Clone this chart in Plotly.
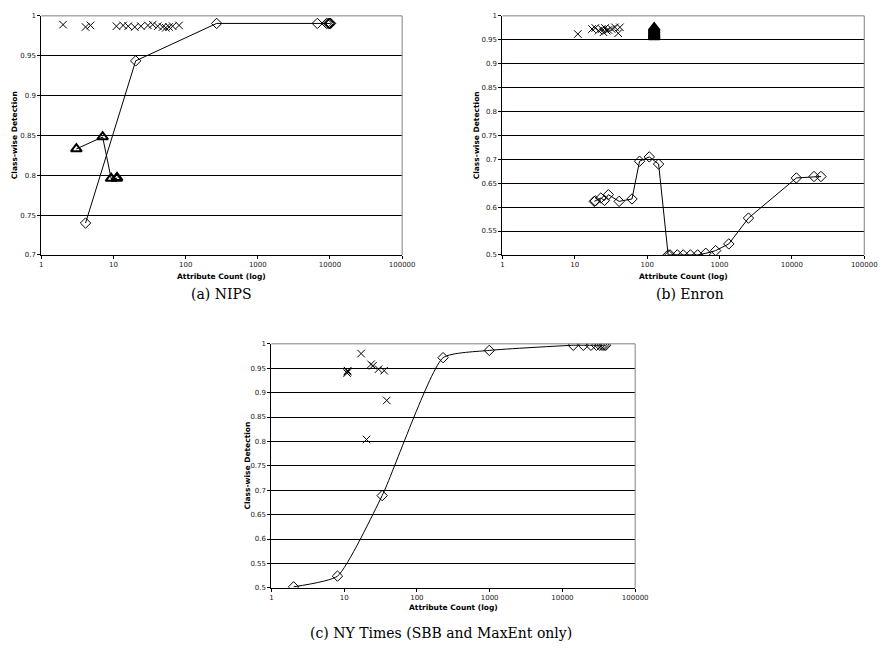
import plotly.graph_objects as go

# ---------------- data ----------------
# (a) NIPS
a_x_cnt = [2, 4.1, 4.8, 11, 13.6, 16, 19.7, 24, 30, 35, 41, 48, 53, 59, 66, 81]
a_x_det = [0.989, 0.986, 0.988, 0.987, 0.988, 0.987, 0.986, 0.987, 0.988, 0.989, 0.987, 0.986, 0.985, 0.986, 0.987, 0.988]
a_d_cnt = [4.1, 20.3, 269, 6670, 9000, 9500, 9800, 10000, 10200]
a_d_det = [0.740, 0.9435, 0.9905, 0.9905, 0.9905, 0.9905, 0.9905, 0.9905, 0.9905]
a_t_cnt = [3.06, 7.07, 9.27, 11.1, 11.2]
a_t_det = [0.833, 0.848, 0.796, 0.796, 0.797]

# (b) Enron
b_x_cnt = [11, 17.3, 19.2, 21.3, 23.6, 24.9, 26.2, 27.6, 29.1, 32.3, 35.9, 39.8, 42]
b_x_det = [0.962, 0.9725, 0.9746, 0.969, 0.9725, 0.9657, 0.9746, 0.969, 0.9705, 0.9725, 0.976, 0.9636, 0.976]
b_t_cnt = [125, 125, 125, 125, 125, 125, 125, 125]
b_t_det = [0.956, 0.958, 0.960, 0.963, 0.966, 0.969, 0.972, 0.975]
b_d_cnt = [18.6, 19.2, 22.9, 25.7, 29.1, 41, 61.7, 78.5, 107, 144, 195, 207, 261, 315, 396, 498, 646, 884, 1343, 2512, 11530, 20230, 25200]
b_d_det = [0.612, 0.613, 0.619, 0.614, 0.626, 0.612, 0.617, 0.696, 0.705, 0.690, 0.5, 0.5, 0.5, 0.5, 0.5, 0.5, 0.5034, 0.509, 0.523, 0.577, 0.661, 0.664, 0.664]

# (c) NY Times
c_d_cnt = [2.02, 8.1, 33.3, 229, 989, 14090, 19400, 24660, 29400, 32600, 35100, 37300, 39300]
c_d_det = [0.502, 0.524, 0.689, 0.9716, 0.9865, 0.997, 0.997, 0.997, 0.997, 0.997, 0.997, 0.997, 0.997]
c_x_cnt = [11, 11.1, 11.2, 17.1, 20.3, 23.4, 24.9, 29.7, 35.5, 38.5]
c_x_det = [0.940, 0.943, 0.945, 0.980, 0.804, 0.958, 0.955, 0.948, 0.945, 0.884]

x_tickvals = [1, 10, 100, 1000, 10000, 100000]
x_ticktext = ["1", "10", "100", "1000", "10000", "100000"]
ya_vals = [0.7, 0.75, 0.8, 0.85, 0.9, 0.95, 1.0]
ya_text = ["0.7", "0.75", "0.8", "0.85", "0.9", "0.95", "1"]
yb_vals = [0.5, 0.55, 0.6, 0.65, 0.7, 0.75, 0.8, 0.85, 0.9, 0.95, 1.0]
yb_text = ["0.5", "0.55", "0.6", "0.65", "0.7", "0.75", "0.8", "0.85", "0.9", "0.95", "1"]

captions = ["(a) NIPS", "(b) Enron", "(c) NY Times (SBB and MaxEnt only)"]
x_title = "Attribute Count (log)"
y_title = "Class-wise Detection"

# ---------------- layout helpers ----------------
W, H = 892, 658
def fx(px):
    return px / W
def fy(py):
    return 1 - py / H

panels = {
    "a": dict(x0=40, x1=407, y0=12, y1=254),
    "b": dict(x0=509, x1=877, y0=12, y1=254),
    "c": dict(x0=274, x1=644, y0=344, y1=591),
}

fig = go.Figure()

def xmark(x, y, ax):
    return go.Scatter(x=x, y=y, mode="markers", xaxis=ax[0], yaxis=ax[1],
                      marker=dict(symbol="x-thin", size=7.5, line=dict(color="black", width=1)),
                      showlegend=False, hoverinfo="skip")

def diamonds(x, y, ax, shape="linear"):
    return go.Scatter(x=x, y=y, mode="lines+markers", xaxis=ax[0], yaxis=ax[1],
                      line=dict(color="black", width=1, shape=shape, smoothing=0.5),
                      marker=dict(symbol="diamond-open", size=8, color="black", line=dict(width=1)),
                      showlegend=False, hoverinfo="skip")

def triangles(x, y, ax, mode="lines+markers"):
    return go.Scatter(x=x, y=y, mode=mode, xaxis=ax[0], yaxis=ax[1],
                      line=dict(color="black", width=1),
                      marker=dict(symbol="triangle-up-open", size=9.5, color="black", line=dict(width=2)),
                      showlegend=False, hoverinfo="skip")

# panel a
fig.add_trace(diamonds(a_d_cnt, a_d_det, ("x", "y")))
fig.add_trace(triangles(a_t_cnt, a_t_det, ("x", "y")))
fig.add_trace(xmark(a_x_cnt, a_x_det, ("x", "y")))
# panel b
fig.add_trace(diamonds(b_d_cnt, b_d_det, ("x2", "y2")))
fig.add_trace(triangles(b_t_cnt, b_t_det, ("x2", "y2"), mode="markers"))
fig.add_trace(xmark(b_x_cnt, b_x_det, ("x2", "y2")))
# panel c
fig.add_trace(diamonds(c_d_cnt, c_d_det, ("x3", "y3"), shape="spline"))
fig.add_trace(xmark(c_x_cnt, c_x_det, ("x3", "y3")))

tickfont = dict(family="DejaVu Sans", size=7, color="#222")

def xaxis(p):
    return dict(type="log", range=[0, 5], domain=[fx(p["x0"]), fx(p["x1"])],
                tickvals=x_tickvals, ticktext=x_ticktext, tickfont=tickfont,
                showgrid=False, zeroline=False, showline=True, linecolor="black", linewidth=1,
                ticks="outside", ticklen=3, tickcolor="black", fixedrange=True)

def yaxis(p, rng, vals, text, anchor):
    return dict(range=rng, domain=[fy(p["y1"]), fy(p["y0"])], tickvals=vals, ticktext=text,
                tickfont=tickfont, showgrid=True, gridcolor="black", gridwidth=1,
                zeroline=False, showline=True, linecolor="black", linewidth=1,
                ticks="outside", ticklen=3, tickcolor="black", anchor=anchor, fixedrange=True)

pa, pb, pc = panels["a"], panels["b"], panels["c"]
fig.update_layout(
    width=W, height=H, margin=dict(l=0, r=0, t=0, b=0),
    paper_bgcolor="white", plot_bgcolor="white",
    xaxis=dict(xaxis(pa), anchor="y"),
    yaxis=yaxis(pa, [0.7, 1.0], ya_vals, ya_text, "x"),
    xaxis2=dict(xaxis(pb), anchor="y2"),
    yaxis2=yaxis(pb, [0.5, 1.0], yb_vals, yb_text, "x2"),
    xaxis3=dict(xaxis(pc), anchor="y3"),
    yaxis3=yaxis(pc, [0.5, 1.0], yb_vals, yb_text, "x3"),
)

shapes = []
for p in (pa, pb, pc):
    # gray plot-area border (top and right)
    shapes.append(dict(type="line", xref="paper", yref="paper", x0=fx(p["x0"]), x1=fx(p["x1"]),
                       y0=fy(p["y0"]), y1=fy(p["y0"]), line=dict(color="#808080", width=1)))
    shapes.append(dict(type="line", xref="paper", yref="paper", x0=fx(p["x1"]), x1=fx(p["x1"]),
                       y0=fy(p["y0"]), y1=fy(p["y1"]), line=dict(color="#808080", width=1)))
fig.update_layout(shapes=shapes)

titlefont = dict(family="DejaVu Sans", size=7.5, color="black")
capfont = dict(family="DejaVu Serif", size=14, color="black")
ann = []
ytitle_x = {"a": 13, "b": 482, "c": 250}
xtitle_y = {"a": 276, "b": 276, "c": 611}
for key, p in panels.items():
    ann.append(dict(text="<b>" + y_title + "</b>", x=fx(ytitle_x[key]), y=fy((p["y0"] + p["y1"]) / 2),
                    xref="paper", yref="paper", showarrow=False, textangle=-90, font=titlefont,
                    xanchor="center", yanchor="middle"))
    ann.append(dict(text="<b>" + x_title + "</b>", x=fx((p["x0"] + p["x1"]) / 2), y=fy(xtitle_y[key]),
                    xref="paper", yref="paper", showarrow=False, font=titlefont,
                    xanchor="center", yanchor="middle"))
cap_pos = [(223, 294), (700, 294), (446, 637)]
for t, (cx, cy) in zip(captions, cap_pos):
    ann.append(dict(text=t, x=fx(cx), y=fy(cy), xref="paper", yref="paper", showarrow=False,
                    font=capfont, xanchor="center", yanchor="middle"))
fig.update_layout(annotations=ann)

fig.write_html("out.html", config={"displayModeBar": False},
               post_script="document.body.style.margin='0px';document.body.style.overflow='hidden';")
